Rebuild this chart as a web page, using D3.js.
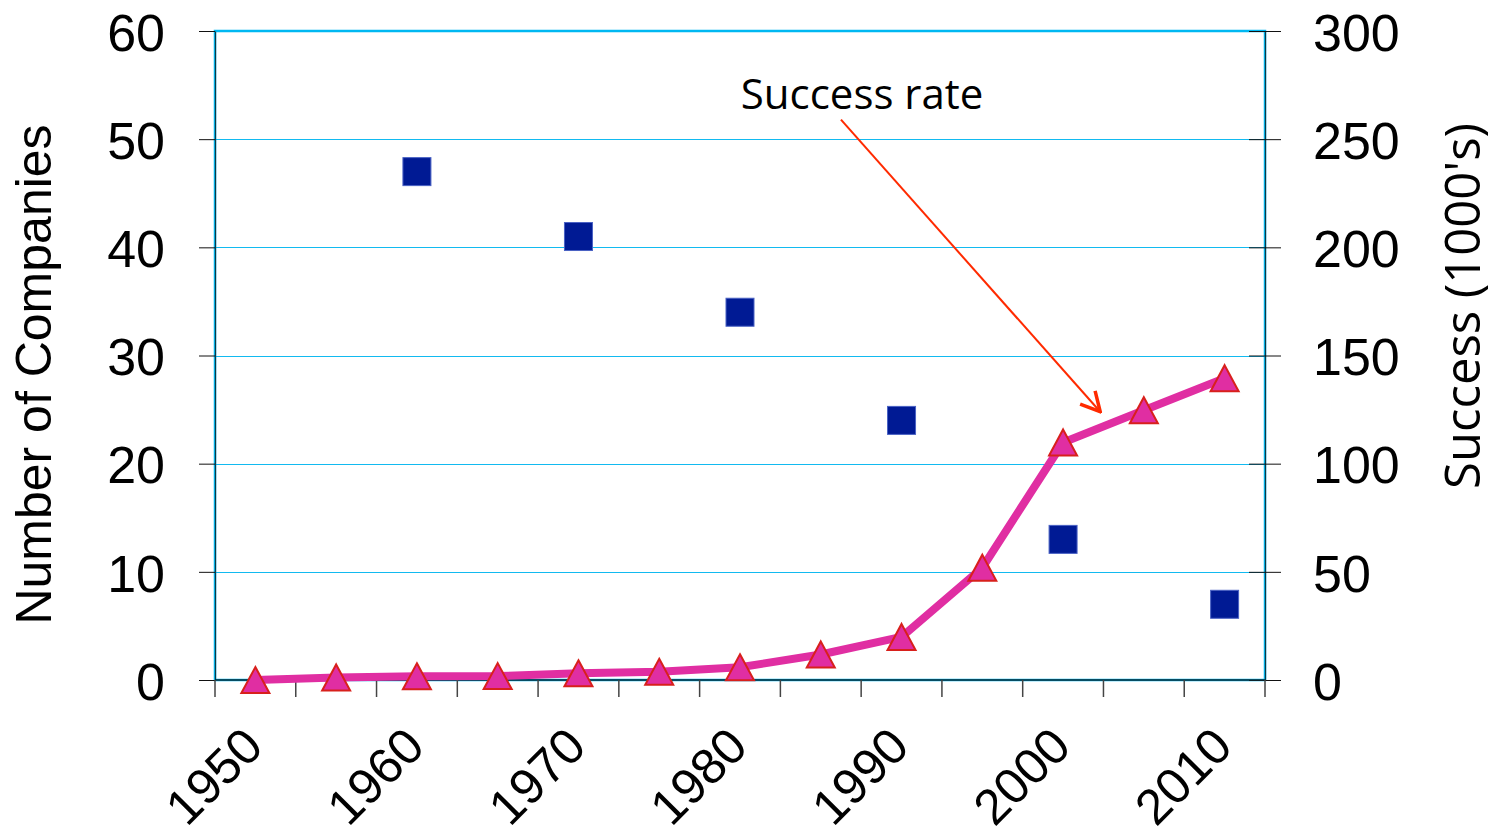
<!DOCTYPE html>
<html>
<head>
<meta charset="utf-8">
<script src="https://cdn.jsdelivr.net/npm/d3@7"></script>
<style>
  html, body { margin: 0; padding: 0; background: #ffffff; }
  svg { display: block; }
</style>
</head>
<body>
<svg id="chart" width="1492" height="832"></svg>
<script>
// Years on the category axis (every five years)
const years = [1950, 1955, 1960, 1965, 1970, 1975, 1980, 1985, 1990, 1995, 2000, 2005, 2010];
// Year labels shown under the axis
const yearLabels = [1950, 1960, 1970, 1980, 1990, 2000, 2010];
// Number of companies (left axis), one reading per decade
const companyYears = [1960, 1970, 1980, 1990, 2000, 2010];
const companies = [47, 41, 34, 24, 13, 7];
// Success in thousands (right axis)
const success = [0, 1.2, 1.7, 1.8, 3.1, 3.8, 5.9, 11.8, 19.9, 51.9, 109.8, 124.7, 139.5];
// Axis ticks
const leftTicks = [0, 10, 20, 30, 40, 50, 60];
const rightTicks = [0, 50, 100, 150, 200, 250, 300];
// Callout for the success series, placed in (year, thousands) units
const calloutText = "Success rate";
const calloutLabel = [1980.05, 264];
const calloutFrom = [1986.25, 259];
const calloutTo = [2002.3, 124];

const svg = d3.select("#chart");
const plot = { left: 215, right: 1265, top: 31, bottom: 680 };

const x = d3.scaleBand().domain(years).range([plot.left, plot.right]).padding(0);
const cx = d => x(d) + x.bandwidth() / 2;
// Continuous year position, for the callout
const xYear = d3.scaleLinear().domain([years[0], years[years.length - 1]])
  .range([cx(years[0]), cx(years[years.length - 1])]);
const yL = d3.scaleLinear().domain([0, 60]).range([plot.bottom, plot.top]);
const yR = d3.scaleLinear().domain([0, 300]).range([plot.bottom, plot.top]);

const cyan = "#12BAF0";

// Horizontal gridlines
svg.append("g").attr("shape-rendering", "crispEdges").selectAll("line")
  .data(leftTicks.filter(v => v > 0 && v < 60))
  .join("line")
  .attr("x1", plot.left).attr("x2", plot.right)
  .attr("y1", d => Math.round(yL(d)) + 0.5).attr("y2", d => Math.round(yL(d)) + 0.5)
  .attr("stroke", cyan).attr("stroke-width", 1);

// Plot-area frame
svg.append("rect")
  .attr("x", plot.left).attr("y", plot.top)
  .attr("width", plot.right - plot.left).attr("height", plot.bottom - plot.top)
  .attr("fill", "none").attr("stroke", "#00B8F2").attr("stroke-width", 2.5);

const tickFont = "'Liberation Sans', Arial, sans-serif";

// Left axis
const gL = svg.append("g").attr("transform", `translate(${plot.left},0)`)
  .call(d3.axisLeft(yL).tickValues(leftTicks).tickSizeInner(16).tickSizeOuter(0).tickPadding(34));
gL.select(".domain").attr("stroke", "#0a3a48").attr("stroke-width", 1.2);
gL.selectAll(".tick line").attr("stroke", "#111");
gL.selectAll(".tick text")
  .attr("font-family", tickFont).attr("font-size", 52).attr("fill", "#000").attr("dy", "0.37em");

// Right axis, ticks cross the axis line
const gR = svg.append("g").attr("transform", `translate(${plot.right},0)`)
  .call(d3.axisRight(yR).tickValues(rightTicks).tickSizeInner(16).tickSizeOuter(0).tickPadding(32));
gR.select(".domain").attr("stroke", "#0a3a48").attr("stroke-width", 1.2);
gR.selectAll(".tick line").attr("x1", -16).attr("stroke", "#111");
gR.selectAll(".tick text")
  .attr("font-family", tickFont).attr("font-size", 52).attr("fill", "#000").attr("dy", "0.37em");

// Bottom axis line and category boundary ticks
svg.append("line")
  .attr("x1", plot.left).attr("x2", plot.right)
  .attr("y1", plot.bottom).attr("y2", plot.bottom)
  .attr("stroke", "#0a2a34").attr("stroke-width", 1.5);
const bounds = years.map(d => x(d)).concat([plot.right]);
svg.append("g").selectAll("line").data(bounds).join("line")
  .attr("x1", d => d).attr("x2", d => d)
  .attr("y1", plot.bottom).attr("y2", plot.bottom + 17)
  .attr("stroke", "#444").attr("stroke-width", 1.5);

// Rotated year labels
svg.append("g").selectAll("text").data(yearLabels).join("text")
  .attr("transform", d => `translate(${cx(d) + 10},${plot.bottom + 69}) rotate(-45)`)
  .attr("text-anchor", "end")
  .attr("font-family", tickFont).attr("font-size", 50).attr("fill", "#000")
  .text(d => d);

// Axis titles
svg.append("text")
  .attr("transform", `translate(51,${(plot.top + plot.bottom) / 2 + 19}) rotate(-90)`)
  .attr("text-anchor", "middle")
  .attr("font-family", tickFont).attr("font-size", 50).attr("fill", "#000")
  .text("Number of Companies");
svg.append("text")
  .attr("transform", `translate(1480,${306}) rotate(-90)`)
  .attr("text-anchor", "middle")
  .attr("font-family", "'Open Sans', sans-serif").attr("font-size", 49).attr("fill", "#000")
  .text("Success (1000's)");

// Success line
const line = d3.line().x((d, i) => cx(years[i])).y(d => yR(d));
svg.append("path").datum(success)
  .attr("d", line)
  .attr("fill", "none").attr("stroke", "#E02EA2").attr("stroke-width", 8)
  .attr("stroke-linejoin", "round");

// Triangle markers
const triW = 28, triH = 26;
const tri = `M0,${-triH / 2}L${triW / 2},${triH / 2}L${-triW / 2},${triH / 2}Z`;
svg.append("g").selectAll("path").data(success).join("path")
  .attr("transform", (d, i) => `translate(${cx(years[i])},${yR(d)})`)
  .attr("d", tri)
  .attr("fill", "#E02EA2").attr("stroke", "#D8201C").attr("stroke-width", 2)
  .attr("stroke-linejoin", "miter");

// Company squares
const sq = 28;
svg.append("g").selectAll("rect").data(companies).join("rect")
  .attr("x", (d, i) => cx(companyYears[i]) - sq / 2)
  .attr("y", d => yL(d) - sq / 2)
  .attr("width", sq).attr("height", sq)
  .attr("fill", "#001A94").attr("stroke", "#4A62C4").attr("stroke-width", 1);

// Callout with arrow
const defs = svg.append("defs");
defs.append("marker")
  .attr("id", "arrowhead")
  .attr("markerUnits", "userSpaceOnUse")
  .attr("viewBox", "-22 -12 24 24")
  .attr("refX", 0).attr("refY", 0)
  .attr("markerWidth", 24).attr("markerHeight", 24)
  .attr("orient", "auto")
  .append("path")
  .attr("d", "M-19,-10L0,0L-19,10")
  .attr("fill", "none").attr("stroke", "#FF2A00").attr("stroke-width", 3.5)
  .attr("stroke-linejoin", "miter");

svg.append("text")
  .attr("x", xYear(calloutLabel[0])).attr("y", yR(calloutLabel[1]))
  .attr("font-family", "'Open Sans', sans-serif").attr("font-size", 42).attr("fill", "#000")
  .text(calloutText);
svg.append("line")
  .attr("x1", xYear(calloutFrom[0])).attr("y1", yR(calloutFrom[1]))
  .attr("x2", xYear(calloutTo[0])).attr("y2", yR(calloutTo[1]))
  .attr("stroke", "#FF2A00").attr("stroke-width", 2)
  .attr("marker-end", "url(#arrowhead)");
</script>
</body>
</html>
